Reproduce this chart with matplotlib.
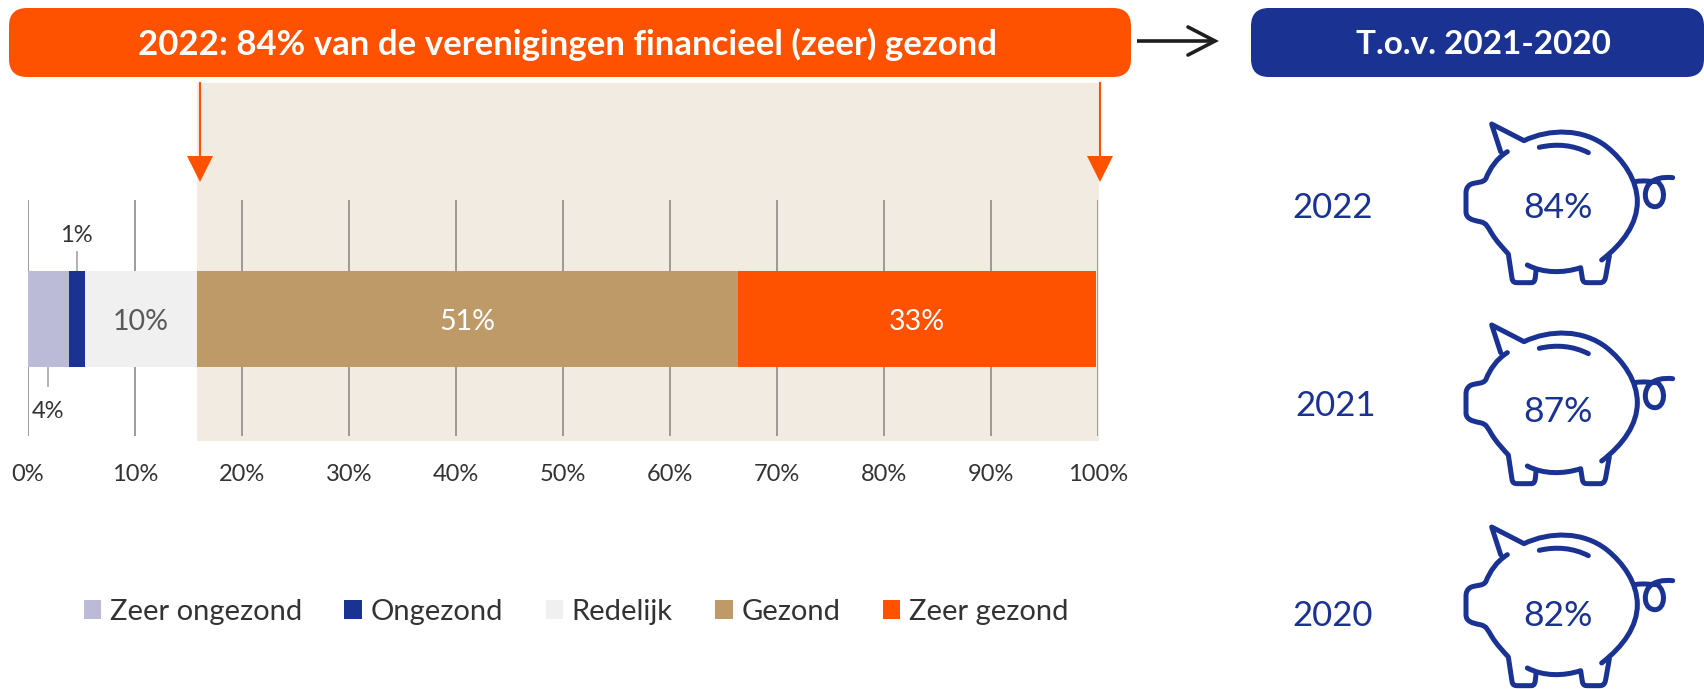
import numpy as np
import matplotlib
matplotlib.use("Agg")
import matplotlib.pyplot as plt
from matplotlib.patches import FancyBboxPatch, PathPatch, Polygon, Rectangle
from matplotlib.path import Path

plt.rcParams['font.family'] = ['Lato', 'DejaVu Sans']

categories = ["Zeer ongezond", "Ongezond", "Redelijk", "Gezond", "Zeer gezond"]
values = [3.8, 1.5, 10.5, 50.6, 33.4]
value_labels = ["4%", "1%", "10%", "51%", "33%"]
colors = ["#BBBBD8", "#1A3291", "#F0F0F0", "#BE9A68", "#FF5200"]
ticks = list(range(0, 101, 10))
tick_labels = [str(t) + "%" for t in ticks]
years = ["2022", "2021", "2020"]
year_values = ["84%", "87%", "82%"]

ORANGE = "#FF5200"
BLUE = "#1A3291"
BEIGE = "#F2EBE2"
W, H = 1704, 689

fig = plt.figure(figsize=(W / 100, H / 100), dpi=100)

# overlay in pixel coordinates for the shapes around the chart
bg = fig.add_axes([0, 0, 1, 1])
bg.set_xlim(0, W)
bg.set_ylim(H, 0)
bg.axis("off")


def banner(x0, x1, y0, y1, color, label, cx, size):
    r = 18
    bg.add_patch(FancyBboxPatch((x0 + r, y0 + r), x1 - x0 - 2 * r, y1 - y0 - 2 * r,
                                boxstyle="round,pad=%d,rounding_size=%d" % (r, r),
                                fc=color, ec="none", clip_on=False))
    bg.text(cx, (y0 + y1) / 2 + 2, label, color="white", fontsize=size, fontweight="bold",
            ha="center", va="center")


bg.add_patch(Rectangle((197, 83), 902, 358, fc=BEIGE, ec="none"))
banner(9, 1131, 8, 77, ORANGE, "2022: 84% van de verenigingen financieel (zeer) gezond", 568, 25)
banner(1251, 1704, 8, 77, BLUE, "T.o.v. 2021-2020", 1483, 24)

# black arrow between the banners
bg.plot([1137, 1214], [41, 41], color="#1E1E1E", lw=2.6, solid_capstyle="butt")
bg.plot([1188, 1215, 1188], [27, 41, 55], color="#1E1E1E", lw=2.6, solid_capstyle="round",
        solid_joinstyle="miter")

# orange arrows
for x in [200, 1100]:
    bg.plot([x, x], [83, 158], color=ORANGE, lw=1.5)
    bg.add_patch(Polygon([(x - 13, 156), (x + 13, 156), (x, 182)], fc=ORANGE, ec="none"))

# stacked bar
ax = fig.add_axes([28 / W, (H - 436) / H, 1070 / W, 236 / H])
ax.patch.set_alpha(0)
ax.set_xlim(0, 100)
ax.set_ylim(0, 1)
left = 0
handles = []
for name, v, c in zip(categories, values, colors):
    handles.append(ax.barh(0.496, v, left=left, height=0.407, color=c, label=name, zorder=3))
    left += v
for s in ax.spines.values():
    s.set_visible(False)
ax.set_yticks([])
ax.set_xticks(ticks)
ax.set_xticklabels(tick_labels, fontsize=17, color="#333333")
ax.tick_params(axis="x", length=0, pad=20)
ax.grid(axis="x", color="#8E8A86", lw=1.2, zorder=1)
ax.set_axisbelow(True)

starts = np.cumsum([0] + values[:-1])
centers = starts + np.array(values) / 2
ax.text(centers[2], 0.485, value_labels[2], color="#595959", fontsize=20.5, ha="center", va="center", zorder=4)
ax.text(centers[3], 0.485, value_labels[3], color="white", fontsize=20.5, ha="center", va="center", zorder=4)
ax.text(centers[4], 0.485, value_labels[4], color="white", fontsize=20.5, ha="center", va="center", zorder=4)
ax.text(centers[1], 0.85, value_labels[1], color="#333333", fontsize=17, ha="center", va="center")
ax.text(centers[0], 0.105, value_labels[0], color="#333333", fontsize=17, ha="center", va="center")
ax.plot([centers[1]] * 2, [0.70, 0.78], color="#B0AAAA", lw=1.3, zorder=2)
ax.plot([centers[0]] * 2, [0.29, 0.21], color="#B0AAAA", lw=1.3, zorder=2)

fig.legend(handles=handles, labels=categories, loc="center", bbox_to_anchor=(576 / W, 1 - 612 / H),
           ncol=5, frameon=False, fontsize=21, handlelength=0.6, handleheight=0.6,
           handletextpad=0.3, columnspacing=1.45, labelcolor="#333333", borderpad=0)

# piggy banks, outline traced in zoomed pixel units
M, L, C = Path.MOVETO, Path.LINETO, Path.CURVE4
pig_parts = [
    [(M, (302, 155)), (L, (275, 72)), (L, (372, 122)),
     (C, (450, 85)), (C, (550, 85)), (C, (620, 140)),
     (C, (670, 180)), (C, (712, 240)), (C, (712, 305)),
     (C, (712, 370)), (C, (670, 430)), (C, (605, 480))],
    [(M, (322, 155)), (C, (290, 175)), (C, (270, 205)), (C, (258, 235)),
     (C, (250, 250)), (C, (230, 245)), (C, (212, 253)),
     (C, (200, 260)), (C, (198, 270)), (C, (198, 280)), (L, (198, 335)),
     (C, (198, 355)), (C, (215, 360)), (C, (240, 365)),
     (C, (262, 370)), (C, (262, 380)), (C, (275, 400)),
     (C, (290, 425)), (C, (310, 445)), (C, (325, 462)), (L, (336, 535)),
     (C, (338, 548)), (C, (345, 548)), (C, (355, 548)), (L, (393, 548)),
     (C, (405, 548)), (C, (406, 540)), (C, (408, 510))],
    [(M, (382, 495)), (C, (430, 520)), (C, (490, 520)), (C, (542, 503)), (L, (547, 535)),
     (C, (549, 548)), (C, (555, 548)), (C, (565, 548)), (L, (600, 548)),
     (C, (612, 548)), (C, (615, 540)), (C, (617, 530)), (L, (628, 468))],
    [(M, (418, 142)), (C, (470, 130)), (C, (520, 135)), (C, (565, 158))],
    [(M, (705, 245)), (C, (730, 240)), (C, (755, 245)), (C, (772, 245)),
     (C, (800, 265)), (C, (795, 320)), (C, (765, 320)),
     (C, (735, 320)), (C, (728, 280)), (C, (745, 255)),
     (C, (760, 235)), (C, (790, 230)), (C, (818, 233))],
]


def draw_pig(dy):
    for part in pig_parts:
        codes = [p[0] for p in part]
        verts = [(1400 + p[1][0] / 3, 100 + dy + p[1][1] / 3) for p in part]
        bg.add_patch(PathPatch(Path(verts, codes), fc="none", ec=BLUE, lw=3.6, capstyle="round", joinstyle="round"))


pig_dy = [0, 201, 403]
year_y = [208, 406, 616]
year_x = [1333, 1336, 1333]
value_y = [208, 412, 616]
for i in range(3):
    draw_pig(pig_dy[i])
    bg.text(year_x[i], year_y[i], years[i], color=BLUE, fontsize=25, ha="center", va="center")
    bg.text(1558, value_y[i], year_values[i], color=BLUE, fontsize=25.5, ha="center", va="center")

fig.savefig("out.png", dpi=100)
